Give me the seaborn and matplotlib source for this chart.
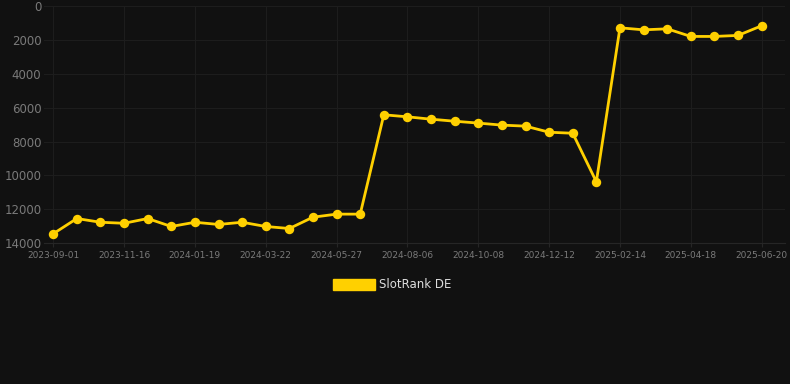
import pandas as pd
import matplotlib.pyplot as plt
import seaborn as sns
from matplotlib.patches import Patch

# data (rank, lower is better)
dates = ['2023-09-01', '2023-09-26', '2023-10-21', '2023-11-16', '2023-12-07',
         '2023-12-28', '2024-01-19', '2024-02-08', '2024-03-01', '2024-03-22',
         '2024-04-13', '2024-05-05', '2024-05-27', '2024-06-20', '2024-07-13',
         '2024-08-06', '2024-08-27', '2024-09-17', '2024-10-08', '2024-10-30',
         '2024-11-20', '2024-12-12', '2025-01-02', '2025-01-24', '2025-02-14',
         '2025-03-07', '2025-03-28', '2025-04-18', '2025-05-09', '2025-05-30',
         '2025-06-20']
ranks = [13450, 12550, 12770, 12830, 12550, 13020, 12770, 12900, 12770, 13020,
         13140, 12470, 12290, 12290, 6420, 6540, 6680, 6800, 6910, 7030,
         7090, 7450, 7510, 10380, 1280, 1400, 1340, 1790, 1790, 1730, 1160]
y_ticks = [0, 2000, 4000, 6000, 8000, 10000, 12000, 14000]
series_name = 'SlotRank DE'

bg = '#111111'
gold = '#FFD000'
grid_col = '#1d1d1d'
label_col = '#7a7a7a'

df = pd.DataFrame({'idx': range(len(dates)), 'date': dates, 'rank': ranks})

fig = plt.figure(figsize=(7.9, 3.84), dpi=100, facecolor=bg)
ax = fig.add_axes([0.056, 0.367, 0.938, 0.617])
ax.set_facecolor(bg)

sns.lineplot(data=df, x='idx', y='rank', ax=ax, color=gold, linewidth=2.0,
             marker='o', markersize=6.8, markeredgewidth=0, legend=False)

ax.set_ylim(14000, 0)
ax.set_yticks(y_ticks)
ax.set_xlim(-0.38, 31.0)
tick_pos = list(range(0, len(dates), 3))
ax.set_xticks(tick_pos)
ax.set_xticklabels([dates[i] for i in tick_pos])

ax.grid(True, color=grid_col, linewidth=0.8)
ax.set_axisbelow(True)
for s in ['top', 'right', 'left']:
    ax.spines[s].set_visible(False)
ax.spines['bottom'].set_color('#262626')
ax.tick_params(axis='y', colors=label_col, labelsize=8.5, length=0, pad=2)
ax.tick_params(axis='x', colors=label_col, labelsize=6.5, length=3, color='#262626', pad=3)
ax.set_xlabel('')
ax.set_ylabel('')

handles = [Patch(facecolor=gold, edgecolor=gold, label=series_name)]
fig.legend(handles=handles, loc='center', bbox_to_anchor=(0.497, 1 - 285 / 384),
           frameon=False, fontsize=8.5, labelcolor='#dddddd',
           handlelength=3.5, handleheight=1.1, handletextpad=0.4)

plt.savefig('out.png', dpi=100, facecolor=bg)
plt.close()
